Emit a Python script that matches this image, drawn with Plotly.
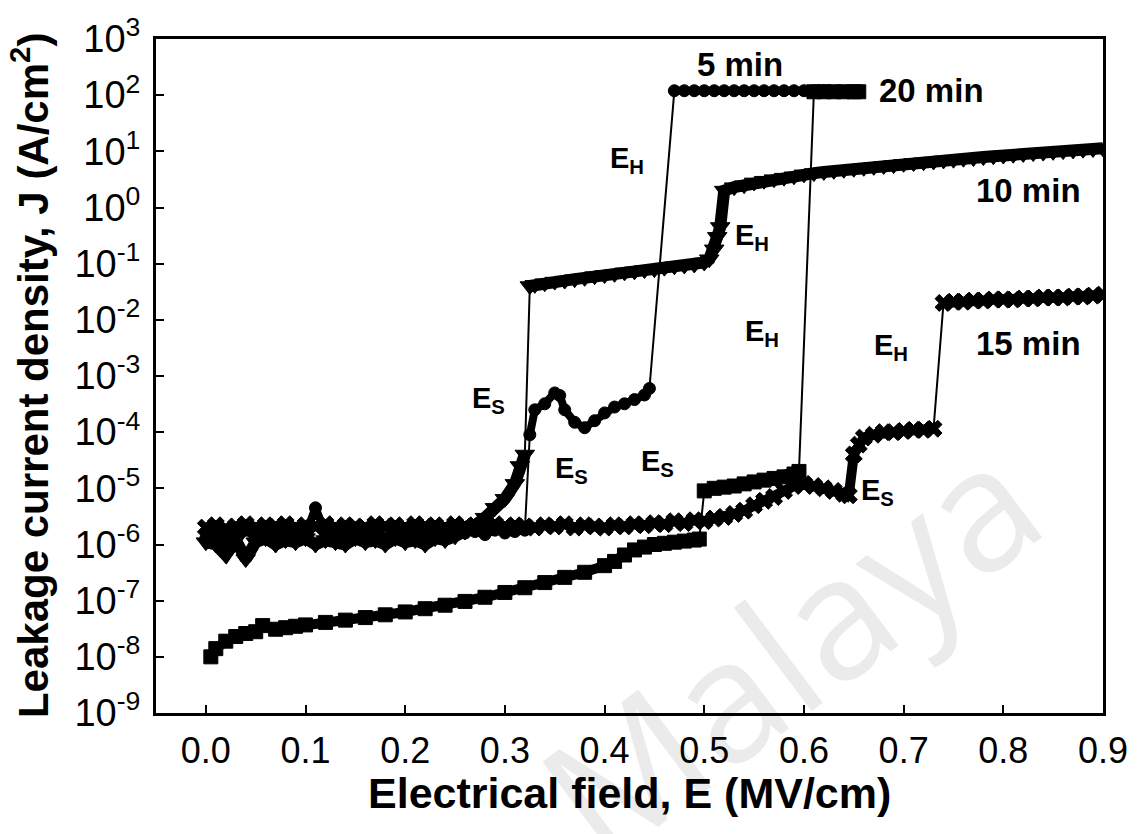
import math
import plotly.graph_objects as go

# ---------------- data ----------------
# 5 min (circles)
E_5 = [0.00, 0.01, 0.02, 0.03, 0.04, 0.05, 0.06, 0.07, 0.08, 0.09, 0.10, 0.11, 0.12, 0.13,
       0.14, 0.15, 0.16, 0.17, 0.18, 0.19, 0.20, 0.21, 0.22, 0.23, 0.24, 0.25, 0.26, 0.27,
       0.28, 0.29, 0.30, 0.31, 0.32, 0.325, 0.33, 0.34, 0.35, 0.355, 0.36, 0.37, 0.38, 0.39,
       0.40, 0.41, 0.42, 0.43, 0.44, 0.445,
       0.47, 0.48, 0.49, 0.50, 0.51, 0.52, 0.53, 0.54, 0.55, 0.56, 0.57, 0.58, 0.59, 0.60,
       0.61, 0.62]
J_5 = [1.3e-6, 1.6e-6, 1.2e-6, 1.5e-6, 1.8e-6, 1.3e-6, 1.6e-6, 1.4e-6, 1.7e-6, 1.3e-6,
       1.5e-6, 4.5e-6, 1.6e-6, 1.3e-6, 1.7e-6, 1.4e-6, 1.5e-6, 1.8e-6, 1.3e-6, 1.6e-6,
       1.4e-6, 1.7e-6, 1.5e-6, 1.4e-6, 1.8e-6, 1.5e-6, 1.6e-6, 1.7e-6, 1.5e-6, 1.8e-6,
       1.6e-6, 1.7e-6, 1.8e-6, 9e-5, 2.5e-4, 3.2e-4, 5e-4, 4.5e-4, 2.5e-4, 1.5e-4, 1.2e-4,
       1.6e-4, 2.2e-4, 2.8e-4, 3.2e-4, 3.8e-4, 4.6e-4, 6e-4,
       1.2e2, 1.2e2, 1.2e2, 1.2e2, 1.2e2, 1.2e2, 1.2e2, 1.2e2, 1.2e2, 1.2e2, 1.2e2, 1.2e2,
       1.2e2, 1.2e2, 1.2e2, 1.2e2]

# 10 min (down triangles)
E_10 = [0.00, 0.01, 0.02, 0.03, 0.04, 0.05, 0.06, 0.07, 0.08, 0.09, 0.10, 0.11, 0.12, 0.13,
        0.14, 0.15, 0.16, 0.17, 0.18, 0.19, 0.20, 0.21, 0.22, 0.23, 0.24, 0.25, 0.26, 0.27,
        0.28, 0.29, 0.30, 0.31, 0.315, 0.32,
        0.325, 0.33, 0.34, 0.35, 0.36, 0.37, 0.38, 0.39, 0.40, 0.41, 0.42, 0.43, 0.44, 0.45,
        0.46, 0.47, 0.48, 0.49, 0.50, 0.505, 0.51, 0.513, 0.516,
        0.52, 0.53, 0.54, 0.55, 0.56, 0.57, 0.58, 0.59, 0.60, 0.61, 0.62, 0.63, 0.64, 0.65,
        0.66, 0.67, 0.68, 0.69, 0.70, 0.71, 0.72, 0.73, 0.74, 0.75, 0.76, 0.77, 0.78, 0.79,
        0.80, 0.81, 0.82, 0.83, 0.84, 0.85, 0.86, 0.87, 0.88, 0.89, 0.90]
J_10 = [1.1e-6, 1.0e-6, 6.5e-7, 1.2e-6, 5.5e-7, 1.1e-6, 1.3e-6, 1.0e-6, 1.2e-6, 1.1e-6,
        1.3e-6, 1.0e-6, 1.2e-6, 1.1e-6, 1.0e-6, 1.3e-6, 1.1e-6, 1.2e-6, 1.0e-6, 1.3e-6,
        1.1e-6, 1.2e-6, 1.0e-6, 1.3e-6, 1.2e-6, 1.4e-6, 1.7e-6, 2.2e-6, 3.0e-6, 4.5e-6,
        6.5e-6, 1.2e-5, 2.5e-5, 4e-5,
        4.0e-2, 4.2e-2, 4.5e-2, 4.8e-2, 5.0e-2, 5.3e-2, 5.6e-2, 6.0e-2, 6.3e-2, 6.6e-2,
        7.0e-2, 7.3e-2, 7.7e-2, 8.0e-2, 8.5e-2, 9.0e-2, 9.3e-2, 9.7e-2, 1.05e-1, 1.2e-1,
        1.8e-1, 3.0e-1, 4.5e-1,
        2.0, 2.3, 2.5, 2.8, 3.0, 3.2, 3.4, 3.6, 3.9, 4.1, 4.3, 4.5, 4.7, 4.9,
        5.1, 5.3, 5.5, 5.7, 6.0, 6.2, 6.4, 6.6, 6.9, 7.1, 7.4, 7.6, 7.9, 8.2,
        8.4, 8.7, 9.0, 9.3, 9.5, 9.8, 10.1, 10.4, 10.7, 11.0, 11.3]

# 15 min (crosses)
E_15 = [0.00, 0.01, 0.02, 0.03, 0.04, 0.05, 0.06, 0.07, 0.08, 0.09, 0.10, 0.11, 0.12, 0.13,
        0.14, 0.15, 0.16, 0.17, 0.18, 0.19, 0.20, 0.21, 0.22, 0.23, 0.24, 0.25, 0.26, 0.27,
        0.28, 0.29, 0.30, 0.31, 0.32, 0.33, 0.34, 0.35, 0.36, 0.37, 0.38, 0.39, 0.40, 0.41,
        0.42, 0.43, 0.44, 0.45, 0.46, 0.47, 0.48, 0.49, 0.50, 0.51, 0.52, 0.53, 0.54, 0.55,
        0.56, 0.57, 0.58, 0.59, 0.60, 0.61, 0.62, 0.63, 0.64, 0.645,
        0.65, 0.655, 0.66, 0.67, 0.68, 0.69, 0.70, 0.71, 0.72, 0.73,
        0.74, 0.75, 0.76, 0.77, 0.78, 0.79, 0.80, 0.81, 0.82, 0.83, 0.84, 0.85, 0.86, 0.87,
        0.88, 0.89, 0.90]
J_15 = [2.0e-6, 2.2e-6, 1.9e-6, 2.1e-6, 2.3e-6, 2.0e-6, 2.2e-6, 2.1e-6, 2.3e-6, 2.0e-6,
        2.2e-6, 2.1e-6, 2.3e-6, 2.0e-6, 2.2e-6, 2.1e-6, 2.0e-6, 2.3e-6, 2.1e-6, 2.2e-6,
        2.0e-6, 2.3e-6, 2.1e-6, 2.2e-6, 2.0e-6, 2.3e-6, 2.1e-6, 2.2e-6, 2.0e-6, 2.3e-6,
        2.1e-6, 2.2e-6, 2.1e-6, 2.0e-6, 2.2e-6, 2.1e-6, 2.3e-6, 2.0e-6, 2.2e-6, 2.1e-6,
        2.0e-6, 2.2e-6, 2.1e-6, 2.3e-6, 2.2e-6, 2.4e-6, 2.3e-6, 2.6e-6, 2.4e-6, 2.7e-6,
        2.6e-6, 2.9e-6, 3.1e-6, 3.5e-6, 4.0e-6, 5.0e-6, 6.0e-6, 7.0e-6, 9.0e-6, 1.1e-5,
        1.2e-5, 1.1e-5, 1.0e-5, 9.0e-6, 8.0e-6, 7.5e-6,
        4.0e-5, 6.0e-5, 8.0e-5, 9.0e-5, 1.0e-4, 1.0e-4, 1.05e-4, 1.1e-4, 1.1e-4, 1.15e-4,
        2.0e-2, 2.1e-2, 2.1e-2, 2.2e-2, 2.2e-2, 2.3e-2, 2.3e-2, 2.3e-2, 2.4e-2, 2.4e-2,
        2.5e-2, 2.5e-2, 2.5e-2, 2.6e-2, 2.6e-2, 2.7e-2, 2.8e-2]

# 20 min (squares)
E_20 = [0.005, 0.01, 0.02, 0.03, 0.04, 0.05, 0.057, 0.07, 0.08, 0.09, 0.10, 0.12, 0.14, 0.16,
        0.18, 0.20, 0.22, 0.24, 0.26, 0.28, 0.30, 0.32, 0.34, 0.36, 0.38, 0.40, 0.41, 0.42,
        0.43, 0.44, 0.45, 0.46, 0.47, 0.48, 0.49, 0.495,
        0.50, 0.51, 0.52, 0.53, 0.54, 0.55, 0.56, 0.57, 0.58, 0.59, 0.595,
        0.61, 0.62, 0.63, 0.64, 0.65, 0.655]
J_20 = [1.0e-8, 1.4e-8, 1.9e-8, 2.3e-8, 2.6e-8, 2.8e-8, 3.6e-8, 3.1e-8, 3.3e-8, 3.5e-8,
        3.7e-8, 4.1e-8, 4.5e-8, 5.0e-8, 5.6e-8, 6.3e-8, 7.2e-8, 8.3e-8, 9.7e-8, 1.15e-7,
        1.4e-7, 1.7e-7, 2.1e-7, 2.6e-7, 3.2e-7, 4.2e-7, 5.0e-7, 6.5e-7, 8.0e-7, 9.0e-7,
        1.0e-6, 1.05e-6, 1.1e-6, 1.15e-6, 1.2e-6, 1.25e-6,
        9.0e-6, 1.0e-5, 1.05e-5, 1.1e-5, 1.2e-5, 1.3e-5, 1.4e-5, 1.5e-5, 1.6e-5, 1.8e-5,
        2.0e-5,
        1.15e2, 1.15e2, 1.15e2, 1.15e2, 1.15e2, 1.15e2]

x_ticks = [0.0, 0.1, 0.2, 0.3, 0.4, 0.5, 0.6, 0.7, 0.8, 0.9]
y_tickvals = [1e-9, 1e-8, 1e-7, 1e-6, 1e-5, 1e-4, 1e-3, 1e-2, 1e-1, 1e0, 1e1, 1e2, 1e3]
y_exponents = ["-9", "-8", "-7", "-6", "-5", "-4", "-3", "-2", "-1", "0", "1", "2", "3"]

curve_labels = ["5 min", "20 min", "10 min", "15 min"]
label_x = [0.536, 0.673, 0.825, 0.825]
label_y = [2.55, 2.08, 0.31, -2.43]
label_anchor = ["center", "left", "center", "center"]

field_labels = ["H", "H", "H", "H", "S", "S", "S", "S"]
field_x = [0.422, 0.548, 0.558, 0.687, 0.284, 0.367, 0.453, 0.674]
field_y = [0.84, -0.53, -2.23, -2.49, -3.42, -4.68, -4.54, -5.07]

x_title = "Electrical field, E (MV/cm)"
y_title = "Leakage current density, J (A/cm<sup>2</sup>)"

# ---------------- figure ----------------
FONT = "Liberation Sans, Arial, sans-serif"
fig = go.Figure()


def band(xs, ys):
    """Same points; break the thick band where the current jumps."""
    bx, by = [xs[0]], [ys[0]]
    for i in range(1, len(xs)):
        if abs(math.log10(ys[i] / ys[i - 1])) > 0.8:
            bx.append(None)
            by.append(None)
        bx.append(xs[i])
        by.append(ys[i])
    return bx, by


series = [
    (E_5, J_5, "circle", 12, 8),
    (E_10, J_10, "triangle-down", 17, 12),
    (E_15, J_15, "x", 15, 10),
    (E_20, J_20, "square", 14, 10),
]
for ex, jy, sym, sz, bw in series:
    # thin connecting line (visible at the jumps)
    fig.add_trace(go.Scatter(
        x=ex, y=jy, mode="lines", line=dict(color="black", width=2),
        showlegend=False, hoverinfo="skip",
    ))
    # thick band of overlapping markers
    bx, by = band(ex, jy)
    fig.add_trace(go.Scatter(
        x=bx, y=by, mode="lines+markers", connectgaps=False,
        line=dict(color="black", width=bw),
        marker=dict(symbol=sym, size=sz, color="black",
                    line=dict(color="black", width=1)),
        showlegend=False,
    ))

annotations = []
for t, xx, yy, anc in zip(curve_labels, label_x, label_y, label_anchor):
    annotations.append(dict(
        text="<b>%s</b>" % t, x=xx, y=yy, xref="x", yref="y",
        showarrow=False, xanchor=anc,
        font=dict(family=FONT, size=33, color="black"),
    ))
for s, xx, yy in zip(field_labels, field_x, field_y):
    annotations.append(dict(
        text="<b>E<sub>%s</sub></b>" % s, x=xx, y=yy, xref="x", yref="y",
        showarrow=False,
        font=dict(family=FONT, size=29, color="black"),
    ))
# axis titles
annotations.append(dict(
    text="<b>%s</b>" % x_title, xref="paper", yref="paper", x=0.5, y=-0.118,
    xanchor="center", yanchor="middle", showarrow=False,
    font=dict(family=FONT, size=43, color="black"),
))
annotations.append(dict(
    text="<b>%s</b>" % y_title, xref="paper", yref="paper", x=-0.133, y=0.5,
    xanchor="center", yanchor="middle", showarrow=False, textangle=-90,
    font=dict(family=FONT, size=42, color="black"),
))

# faint watermark, kept behind the data
shapes = [dict(
    type="rect", xref="paper", yref="paper", x0=0.665, x1=0.685, y0=0.075, y1=0.095,
    line=dict(width=0), fillcolor="rgba(0,0,0,0)", layer="below",
    label=dict(text="Malaya", textangle=-37, textposition="middle center",
               font=dict(family="Open Sans, sans-serif", size=170, color="#ebebeb")),
)]

fig.update_layout(
    width=1144, height=834,
    margin=dict(l=156, r=41, t=30, b=121),
    paper_bgcolor="white", plot_bgcolor="white",
    font=dict(family=FONT, color="black"),
    annotations=annotations,
    shapes=shapes,
)
fig.update_xaxes(
    range=[-0.05, 0.9], tickvals=x_ticks, ticktext=["%.1f" % v for v in x_ticks],
    ticks="inside", ticklen=8, tickwidth=2, tickcolor="black",
    showline=True, linewidth=3, linecolor="black", mirror=True,
    showgrid=False, zeroline=False,
    tickfont=dict(family=FONT, size=36, color="black"),
    ticklabelstandoff=4,
)
fig.update_yaxes(
    type="log", range=[-9, 3], tickvals=y_tickvals,
    ticktext=["10<sup>%s</sup>" % e for e in y_exponents],
    ticks="inside", ticklen=8, tickwidth=2, tickcolor="black",
    showline=True, linewidth=3, linecolor="black", mirror=True,
    showgrid=False, zeroline=False,
    tickfont=dict(family=FONT, size=38, color="black"),
    ticklabelstandoff=5,
)

fig.write_html("out.html")
